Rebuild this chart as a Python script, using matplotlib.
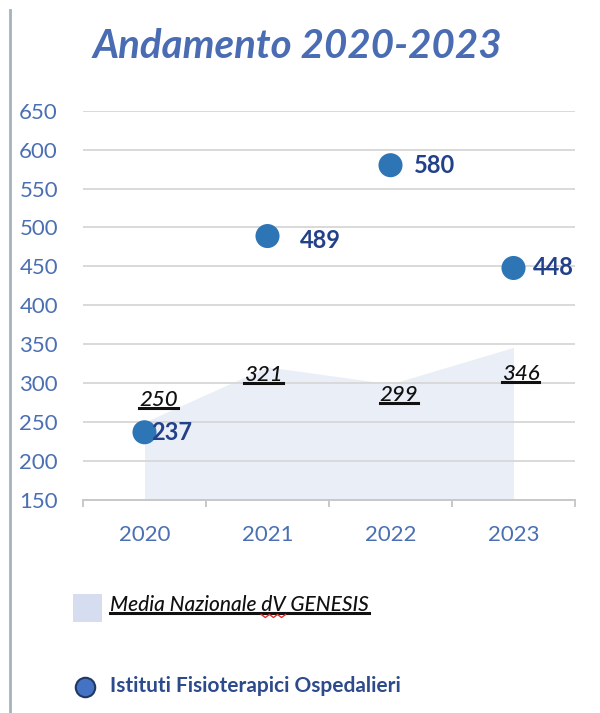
import matplotlib
matplotlib.use("Agg")
import matplotlib.pyplot as plt
from matplotlib.lines import Line2D
from matplotlib.patches import Rectangle

plt.rcParams["font.family"] = ["Lato", "DejaVu Sans"]

# data
years = ["2020", "2021", "2022", "2023"]
media_nazionale = [250, 321, 299, 346]
istituti = [237, 489, 580, 448]
y_ticks = [150, 200, 250, 300, 350, 400, 450, 500, 550, 600, 650]

# label offsets (points) - style only
area_lbl_off = [(10, 16), (-3, -6), (6, -8), (5, -19)]
pt_lbl_off = [(5, 0), (23, -3), (17, 0), (14, 0)]

blue_txt = "#4a6fb3"
dark_blue = "#23408a"
fill_col = "#e9eef7"
dot_col = "#2e75b6"

fig = plt.figure(figsize=(6, 7.13), dpi=100)
W, H = 600, 713
ax = fig.add_axes([83 / W, 1 - 500 / H, 492 / W, (500 - 110.7) / H])

x = list(range(len(years)))
ax.fill_between(x, media_nazionale, 150, color=fill_col, lw=0, zorder=1)
ax.scatter(x, istituti, s=300, color=dot_col, zorder=3, edgecolors="none")

ax.set_xlim(-0.5, 3.5)
ax.set_ylim(150, 650)
ax.set_yticks(y_ticks)
ax.set_xticks(x)
ax.set_xticklabels(years)
ax.set_xticks([-0.5, 0.5, 1.5, 2.5, 3.5], minor=True)
ax.grid(axis="y", color="#d9d9d9", lw=1.4, zorder=0)
for s in ["top", "right", "left"]:
    ax.spines[s].set_visible(False)
ax.spines["bottom"].set_color("#c8c8c8")
ax.spines["bottom"].set_linewidth(1.4)
ax.tick_params(axis="y", length=0, pad=18, labelsize=16, labelcolor=blue_txt)
ax.tick_params(axis="x", which="major", length=0, pad=18, labelsize=16, labelcolor=blue_txt)
ax.tick_params(axis="x", which="minor", length=5, width=1.4, color="#c8c8c8")

# labels
area_txts = []
for xi, v, off in zip(x, media_nazionale, area_lbl_off):
    t = ax.annotate(str(v), (xi, v), xytext=off, textcoords="offset points",
                    ha="center", va="center", fontsize=16, style="italic",
                    fontweight="medium", color="#111111", zorder=4)
    area_txts.append(t)
for xi, v, off in zip(x, istituti, pt_lbl_off):
    ax.annotate(str(v), (xi, v), xytext=off, textcoords="offset points",
                ha="left", va="center", fontsize=17, fontweight="bold",
                color=dark_blue, zorder=4)

# title
fig.text(297 / W, 1 - 46 / H, "Andamento 2020-2023", ha="center", va="center",
         fontsize=29, fontweight="bold", style="italic", color="#4a6cb3")

# left border line
fig.add_artist(Line2D([10 / W, 10 / W], [0, 1 - 10 / H], color="#a4b3bc", lw=2))

# legend
leg_label = "Media Nazionale dV GENESIS"
leg_kw = dict(ha="left", va="center", fontsize=15, style="italic",
              fontweight="medium", color="#111111")
fig.add_artist(Rectangle((73 / W, 1 - 622 / H), 29 / W, 28 / H, color="#d6ddf1",
                         transform=fig.transFigure, lw=0))
leg1 = fig.text(110 / W, 1 - 605 / H, leg_label, **leg_kw)
fig.add_artist(Line2D([85 / W], [1 - 687 / H], marker="o", markersize=14,
                      markerfacecolor="#4472c4", markeredgecolor="#1f3864",
                      markeredgewidth=1.5, transform=fig.transFigure))
fig.text(110 / W, 1 - 686 / H, "Istituti Fisioterapici Ospedalieri", ha="left",
         va="center", fontsize=15, fontweight="bold", color="#2c4a8c")

# underlines
fig.canvas.draw()
r = fig.canvas.get_renderer()
inv = fig.transFigure.inverted()
for t in area_txts + [leg1]:
    bb = t.get_window_extent(r).transformed(inv)
    yy = bb.y0 + 2 / H
    fig.add_artist(Line2D([bb.x0, bb.x1], [yy, yy], color="#111111", lw=2.2))

# spell-check squiggle under "dV"
pre = fig.text(110 / W, 1 - 605 / H, "Media Nazionale ", **leg_kw)
pre2 = fig.text(110 / W, 1 - 605 / H, "Media Nazionale dV", **leg_kw)
x0 = pre.get_window_extent(r).transformed(inv).x1
x1 = pre2.get_window_extent(r).transformed(inv).x1
pre.remove()
pre2.remove()
yb = leg1.get_window_extent(r).transformed(inv).y0 - 1 / H
n = 6
zx = [x0 + (x1 - x0) * i / n for i in range(n + 1)]
zy = [yb + (1.5 / H if i % 2 == 0 else -1.5 / H) for i in range(n + 1)]
fig.add_artist(Line2D(zx, zy, color="#e03030", lw=1))

fig.savefig("out.png", dpi=100)
